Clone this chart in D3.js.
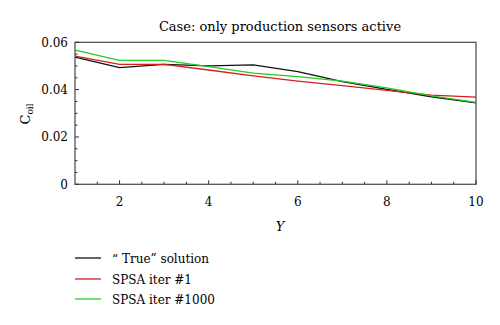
<!DOCTYPE html>
<html><head><meta charset="utf-8">
<script src="https://cdn.jsdelivr.net/npm/d3@7"></script>
<style>body{margin:0;background:#fff}</style>
</head><body>
<svg id="c" width="500" height="325"></svg>
<script>
const xs = [1,2,3,4,5,6,7,8,9,10];
const trueSol = [0.0537,0.0493,0.0507,0.0500,0.0505,0.0476,0.0434,0.0401,0.0370,0.0344];
const spsa1 = [0.0542,0.0507,0.0507,0.0483,0.0458,0.0436,0.0417,0.0397,0.0377,0.0368];
const spsa1000 = [0.0567,0.0524,0.0524,0.0497,0.0470,0.0455,0.0436,0.0407,0.0374,0.0346];
const xTicks = [2,4,6,8,10];
const yTicks = [0,0.02,0.04,0.06];
const seriesNames = ["\u201C True\u201D solution","SPSA iter #1","SPSA iter #1000"];
const colors = ["#111111","#d42020","#22cc22"];
const series = [trueSol, spsa1, spsa1000];

const svg = d3.select("#c");
const L=75,R=476,T=42.3,B=184.3;
const font = "'DejaVu Serif','Liberation Serif',serif";
const x = d3.scaleLinear().domain([1,10]).range([L,R]);
const y = d3.scaleLinear().domain([0,0.06]).range([B,T]);

svg.append("text").attr("x",280).attr("y",31).attr("text-anchor","middle")
  .style("font-family",font).style("font-size","13px").text("Case: only production sensors active");

const line = d3.line().x((d,i)=>x(xs[i])).y(d=>y(d));
series.forEach((s,k)=>{
  svg.append("path").datum(s).attr("d",line).attr("fill","none")
    .attr("stroke",colors[k]).attr("stroke-width",1.3);
});

// frame
svg.append("rect").attr("x",L).attr("y",T).attr("width",R-L).attr("height",B-T)
  .attr("fill","none").attr("stroke","#555").attr("stroke-width",1.3);

// x axis
const xMinor = d3.range(1.5,10,0.5).filter(v=>!xTicks.includes(v));
const gx = svg.append("g");
gx.selectAll("line.maj").data(xTicks).join("line").attr("x1",d=>x(d)).attr("x2",d=>x(d))
  .attr("y1",B).attr("y2",B-4).attr("stroke","#333").attr("stroke-width",1);
gx.selectAll("line.min").data(xMinor).join("line").attr("class","min").attr("x1",d=>x(d)).attr("x2",d=>x(d))
  .attr("y1",B).attr("y2",B-2.5).attr("stroke","#333").attr("stroke-width",1);
gx.selectAll("text").data(xTicks).join("text").attr("x",d=>x(d)).attr("y",B+22)
  .attr("text-anchor","middle").style("font-family",font).style("font-size","12px").text(d=>d);

// y axis
const yMinor = d3.range(0.005,0.06,0.005).filter(v=>Math.abs(v/0.02-Math.round(v/0.02))>1e-6);
const gy = svg.append("g");
gy.selectAll("line.maj").data(yTicks).join("line").attr("y1",d=>y(d)).attr("y2",d=>y(d))
  .attr("x1",L).attr("x2",L+4).attr("stroke","#333").attr("stroke-width",1);
gy.selectAll("line.min").data(yMinor).join("line").attr("class","min").attr("y1",d=>y(d)).attr("y2",d=>y(d))
  .attr("x1",L).attr("x2",L+2.5).attr("stroke","#333").attr("stroke-width",1);
gy.selectAll("text").data(yTicks).join("text").attr("x",L-7).attr("y",d=>y(d)+4.5)
  .attr("text-anchor","end").style("font-family",font).style("font-size","12px")
  .text(d=>d===0?"0":d.toFixed(2));

// axis labels
svg.append("text").attr("x",280).attr("y",231).attr("text-anchor","middle")
  .style("font-family",font).style("font-size","13px").style("font-style","italic").text("Y");
const yl = svg.append("text").attr("transform","translate(30,114) rotate(-90)").attr("text-anchor","middle")
  .style("font-family",font).style("font-size","13px");
yl.append("tspan").text("C");
yl.append("tspan").attr("dy",3).style("font-size","9px").text("oil");

// legend
const ly = [258,279,299];
seriesNames.forEach((n,k)=>{
  svg.append("line").attr("x1",75).attr("x2",101).attr("y1",ly[k]).attr("y2",ly[k])
    .attr("stroke",colors[k]).attr("stroke-width",1.3);
  svg.append("text").attr("x",112).attr("y",ly[k]+4.5).style("font-family",font)
    .style("font-size","12px").text(n);
});
</script>
</body></html>
